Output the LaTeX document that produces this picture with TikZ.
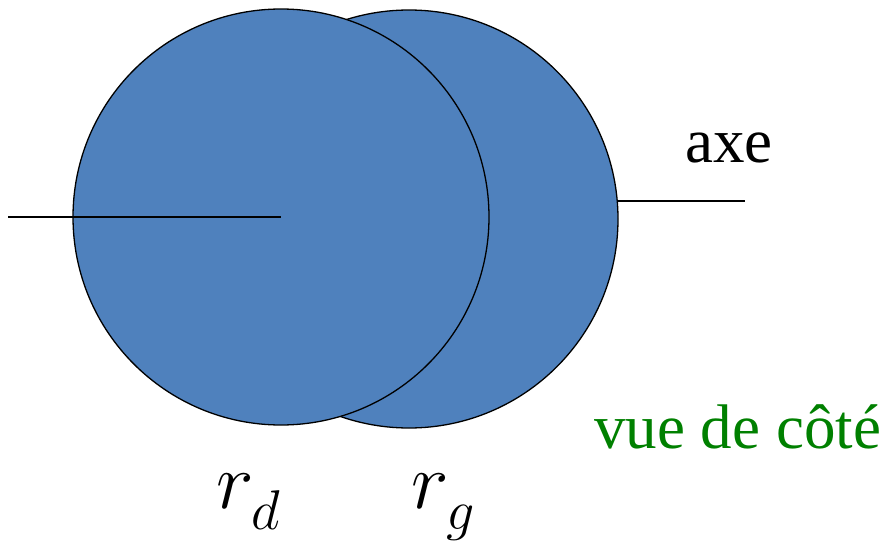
\RequirePackage{fix-cm}
\documentclass[tikz,border=0pt]{standalone}
\usepackage{fontspec}
\setmainfont{Liberation Serif}
\definecolor{disc}{HTML}{4F81BD}
\definecolor{vgreen}{HTML}{008000}
\newcommand\lowsub[1]{_{\lower 9pt\hbox{$\scriptstyle #1$}}}
\begin{document}
\begin{tikzpicture}[x=1pt,y=-1pt,
  discstyle/.style={circle,draw=black,line width=1.3pt,fill=disc,inner sep=0pt},
  axisline/.style={line width=1.3pt},
  lbl/.style={inner sep=0pt,anchor=base west},
  bigvar/.style={lbl,font=\fontsize{80}{90}\selectfont}]
\useasboundingbox (0,0) rectangle (888,543);
\node[discstyle,minimum size=418pt] (rg) at (409,219) {};
\node[discstyle,minimum size=416pt] (rd) at (281,217) {};
\coordinate (lend) at (8,217);
\coordinate (rdc) at (281,217);
\coordinate (rend) at (745,201);
\coordinate (rstart) at (616.5,201);
\draw[axisline] (lend) -- (rdc);
\draw[axisline] (rstart) -- (rend);
\node[lbl,font=\fontsize{63}{70}\selectfont] (axe) at (685,162) {axe};
\node[lbl,font=\fontsize{63}{70}\selectfont,text=vgreen] (vue) at (594,448) {vue de côté};
\node[bigvar] (lrd) at (216,508) {$r\lowsub{d}$};
\node[bigvar] (lrg) at (411,508) {$r\lowsub{g}$};
\end{tikzpicture}
\end{document}
